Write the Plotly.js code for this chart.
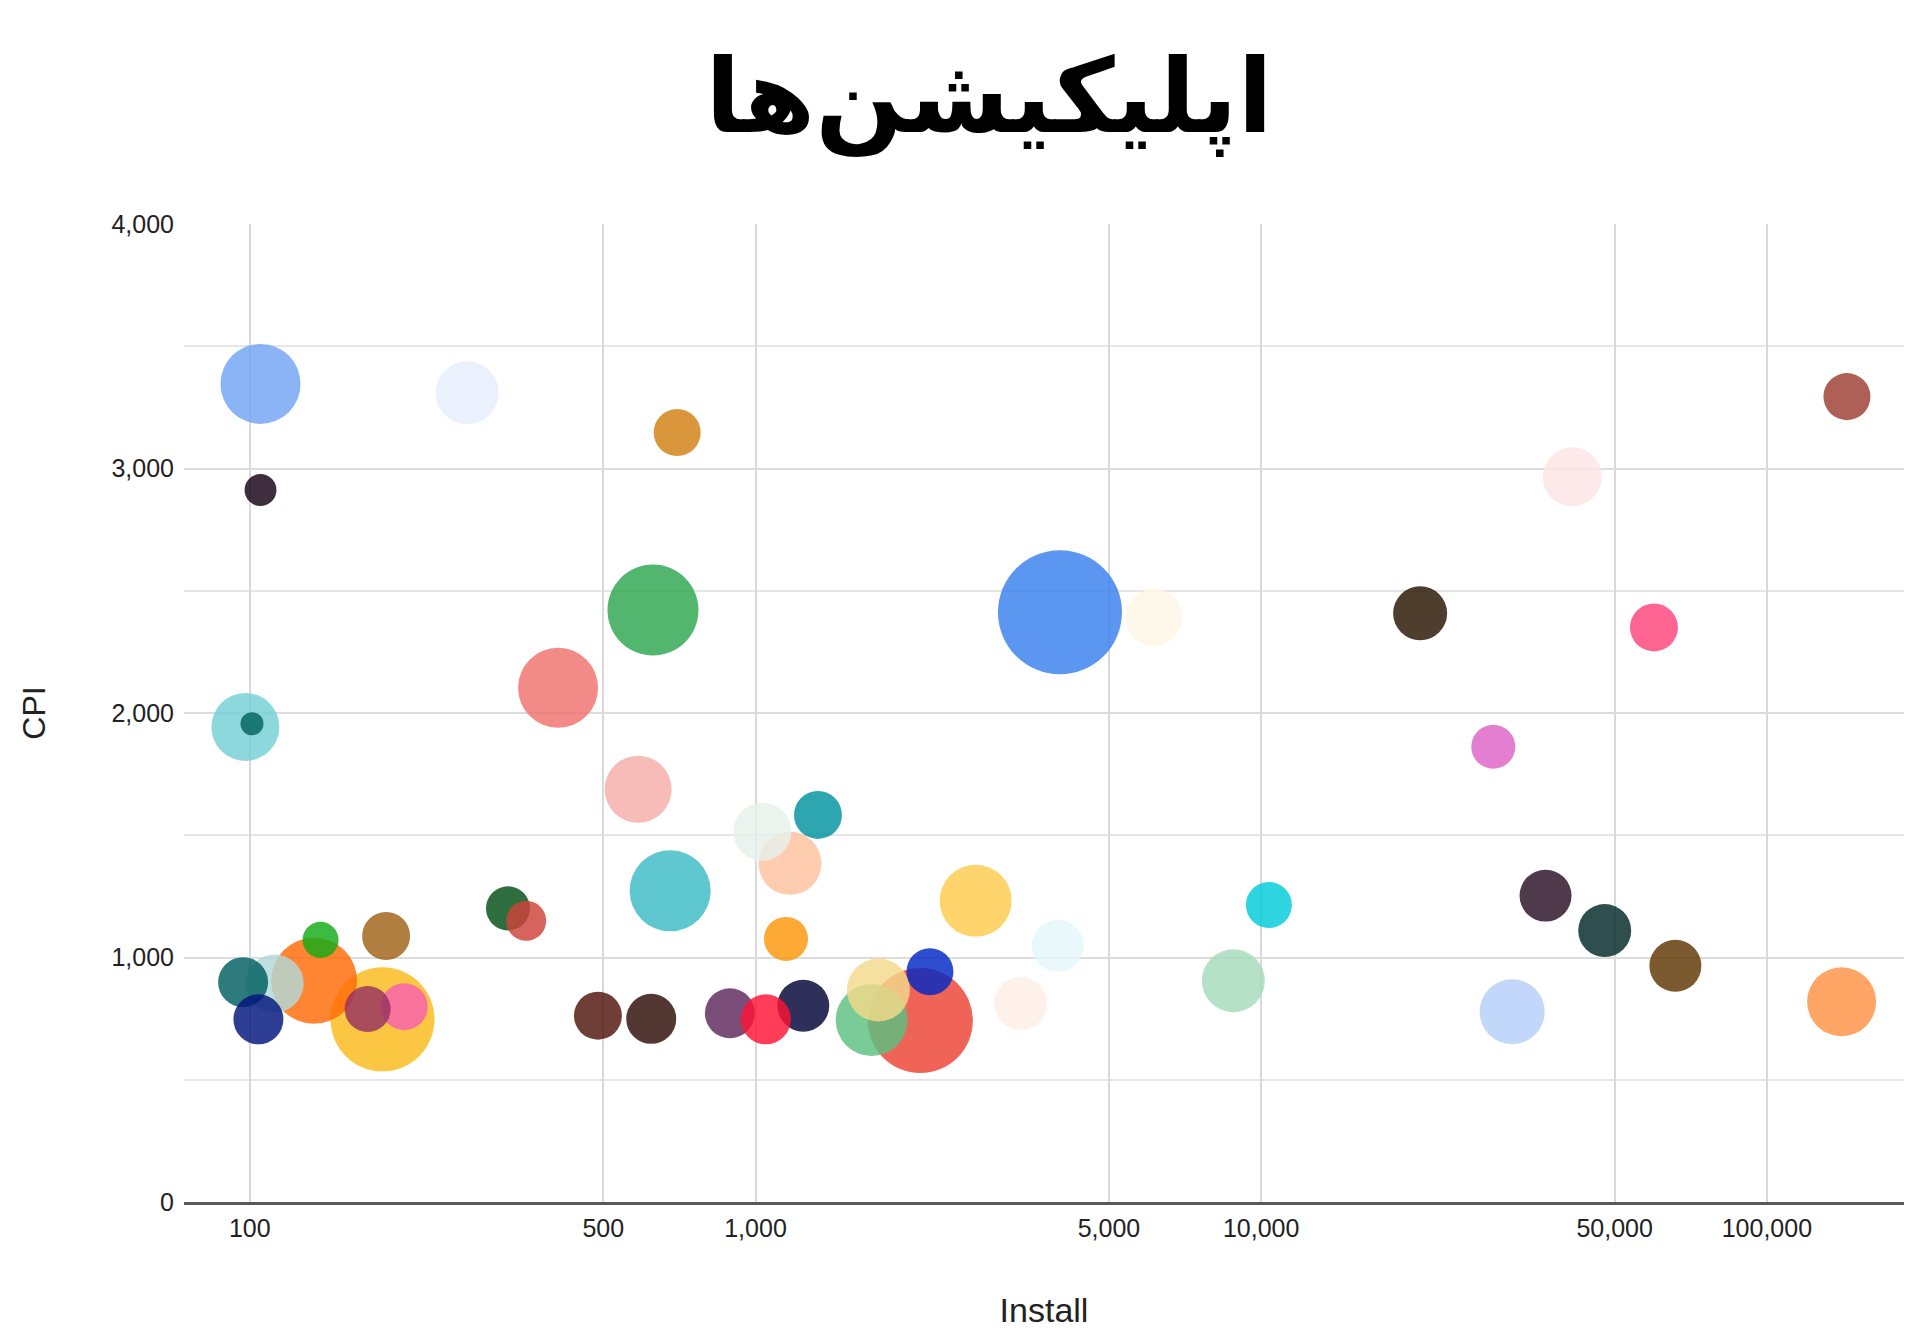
<!DOCTYPE html>
<html>
<head>
<meta charset="utf-8">
<script src="https://cdn.plot.ly/plotly-3.0.1.min.js"></script>
<style>
  html, body { margin: 0; padding: 0; background: #fff; }
  #chart { width: 1920px; height: 1337px; }
</style>
</head>
<body>
<div id="chart"></div>
<script>
// ---- Data ----
const install = [105, 269, 700, 105, 627, 407, 98, 101, 4000, 6138, 20620, 59790, 143970, 41230, 28770,
  586, 1032, 1329, 1170, 678, 324, 352, 138, 186, 134, 112, 97, 104, 183, 171, 202,
  488, 622, 890, 1048, 1243, 1149, 1697, 1750, 2118, 2213, 2725, 3960, 3345,
  10356, 8810, 31350, 36500, 47780, 65920, 140500];
const cpi = [3346, 3310, 3147, 2912, 2421, 2103, 1943, 1956, 2412, 2391, 2408, 2350, 3294, 2966, 1862,
  1688, 1514, 1583, 1385, 1273, 1201, 1150, 1072, 1088, 905, 894, 899, 747, 747, 789, 799,
  762, 749, 772, 747, 803, 1076, 744, 867, 742, 942, 1232, 1048, 812,
  1215, 905, 778, 1253, 1110, 966, 819];
const volume = [64, 39.7, 22.1, 10.2, 82.8, 64, 46.2, 5.3, 153.8, 32.5, 29.2, 23, 22.1, 34.8, 19.4,
  44.9, 33.6, 23, 39.7, 65.6, 19.4, 16, 13, 23, 74, 33.6, 25, 25, 108.2, 21.2, 22.1,
  23, 25, 25, 25, 27, 19.4, 51.8, 39.7, 110.3, 22.1, 51.8, 27, 28.1,
  21.2, 39.7, 42.3, 27, 28.1, 27, 47.6];
const bubbleColors = ['#8AB4F6', '#EAF1FD', '#D9963A', '#3F2B3D', '#52B66F', '#F28B87', '#8DD8DC', '#137F78',
  '#5B96F0', '#FEF8EA', '#4E3E2C', '#FF6593', '#AE5F56', '#FDE9EA', '#E47ED0',
  '#F8BCB8', '#EAF3EE', '#2CA6B0', '#FECDB0', '#5EC7CF', '#2A6E3E', '#D7645C', '#3CBB40', '#B07F3F',
  '#FF8533', '#C0E0E0', '#2D7B7D', '#1F3E93', '#FBC742', '#A9567E', '#F77DBE',
  '#6F3F37', '#523733', '#7B4E7A', '#FF3D59', '#22305A', '#FCA935', '#79CB98', '#F5E0A0', '#F06457',
  '#1F4ECF', '#FDD56C', '#E9F8FA', '#FEF1EA',
  '#25D4DF', '#B5E1C6', '#C3D7FA', '#4F3A4C', '#254F4D', '#7A5A2D', '#FFA565'];
const xTickVals = [100, 500, 1000, 5000, 10000, 50000, 100000];
const xTickText = ['100', '500', '1,000', '5,000', '10,000', '50,000', '100,000'];
const chartTitle = 'اپلیکیشن‌ها';
const xTitle = 'Install';
const yTitle = 'CPI';

// ---- Build: larger bubbles drawn first, smaller on top ----
const ALPHA = 0.82;
function baseColor(hex) {
  const n = parseInt(hex.slice(1), 16);
  const ch = [(n >> 16) & 255, (n >> 8) & 255, n & 255].map(v =>
    Math.max(0, Math.min(255, Math.round((v - (1 - ALPHA) * 255) / ALPHA))));
  return 'rgb(' + ch.join(',') + ')';
}
const order = install.map((_, i) => i).sort((a, b) => volume[b] - volume[a]);
const trace = {
  type: 'scatter',
  mode: 'markers',
  x: order.map(i => install[i]),
  y: order.map(i => cpi[i]),
  marker: {
    size: order.map(i => volume[i]),
    sizemode: 'area',
    sizeref: 0.02,
    color: order.map(i => baseColor(bubbleColors[i])),
    opacity: ALPHA,
    line: { width: 0 }
  },
  hoverinfo: 'x+y',
  showlegend: false
};

const tickFont = { family: 'Liberation Sans, Arial, Helvetica, sans-serif', size: 25, color: '#222' };
const layout = {
  width: 1920,
  height: 1337,
  paper_bgcolor: '#fff',
  plot_bgcolor: '#fff',
  margin: { l: 184, r: 16, t: 224, b: 135 },
  title: {
    text: '<b>' + chartTitle + '</b>',
    font: { family: 'DejaVu Sans, Noto Sans, sans-serif', size: 103, color: '#000' },
    x: 989 / 1920, xref: 'container', xanchor: 'center',
    y: 1 - 96 / 1337, yref: 'container', yanchor: 'middle'
  },
  xaxis: {
    type: 'log',
    range: [1.8699, 5.2711],
    tickmode: 'array',
    tickvals: xTickVals,
    ticktext: xTickText,
    tickfont: tickFont,
    ticks: 'outside', ticklen: 2, tickcolor: 'rgba(0,0,0,0)',
    showgrid: true, gridcolor: '#d9d9d9', gridwidth: 1.5,
    zeroline: false,
    showline: true, linecolor: '#5a5a5a', linewidth: 2.5,
    automargin: false,
    title: { text: xTitle, font: { family: 'Liberation Sans, Arial, sans-serif', size: 34, color: '#222' }, standoff: 58 }
  },
  yaxis: {
    range: [0, 4000],
    tickmode: 'linear', tick0: 0, dtick: 1000,
    tickformat: ',d',
    tickfont: tickFont,
    ticks: 'outside', ticklen: 4, tickcolor: 'rgba(0,0,0,0)',
    showgrid: true, gridcolor: '#dcdcdc', gridwidth: 2,
    minor: { dtick: 500, showgrid: true, gridcolor: '#e6e6e6', gridwidth: 2, ticks: '' },
    zeroline: false,
    showline: false,
    automargin: false,
    title: { text: yTitle, font: { family: 'Liberation Sans, Arial, sans-serif', size: 32, color: '#222' }, standoff: 56 }
  },
  hovermode: 'closest'
};

Plotly.newPlot('chart', [trace], layout, { displayModeBar: false });
</script>
</body>
</html>
